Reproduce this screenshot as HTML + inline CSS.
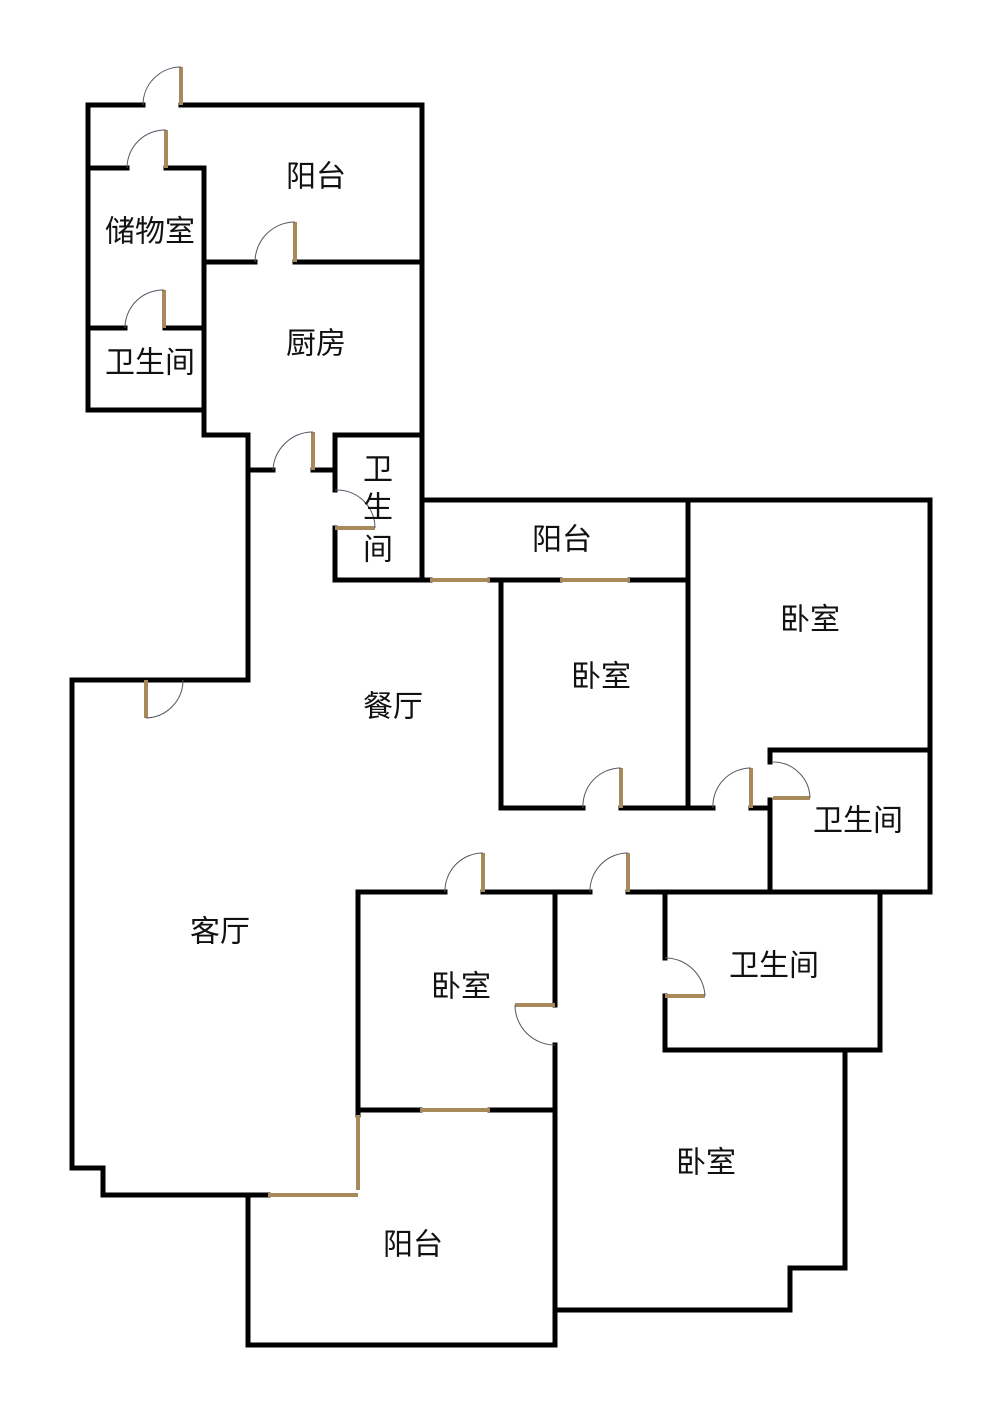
<!DOCTYPE html>
<html><head><meta charset="utf-8"><style>
html,body{margin:0;padding:0;background:#fff;}
svg{display:block}
text{font-family:"Liberation Sans","Noto Sans CJK SC",sans-serif;font-size:30px;fill:#111;text-anchor:middle;dominant-baseline:central}
</style></head><body>
<svg width="1000" height="1413" viewBox="0 0 1000 1413" xmlns="http://www.w3.org/2000/svg">
<g stroke="#000" stroke-width="5" fill="none" stroke-linecap="square">
<path d="M143 105 H88 V410 H204"/>
<path d="M181 105 H422 V580"/>
<path d="M88 168 H127"/><path d="M166 168 H204 V435 H248 V680 H72 V1168 H103 V1195 H268"/>
<path d="M204 262 H255"/><path d="M295 262 H422"/>
<path d="M88 328 H125"/><path d="M165 328 H204"/>
<path d="M248 470 H273"/><path d="M313 470 H335"/>
<path d="M335 490 V435 H422"/><path d="M335 528 V580 H422"/>
<path d="M422 500 H930 V892 H770 V800"/>
<path d="M422 580 H430"/><path d="M490 580 H560"/><path d="M630 580 H688"/>
<path d="M688 500 V808"/>
<path d="M501 580 V808 H583"/><path d="M621 808 H713"/><path d="M751 808 H770 V800"/>
<path d="M770 762 V750 H930"/>
<path d="M183 680 H248"/>
<path d="M358 892 H445"/><path d="M483 892 H590"/><path d="M628 892 H880 V1050 H665 V996"/>
<path d="M665 958 V892"/>
<path d="M845 1050 V1268 H790 V1310 H555 V1045"/>
<path d="M555 1005 V892"/>
<path d="M358 892 V1115"/><path d="M358 1110 H420"/><path d="M490 1110 H555"/>
<path d="M248 1195 V1345 H555 V1310"/>
</g>
<g stroke="#a88a5a" stroke-width="4" fill="none">
<path d="M181 67 V105"/><path d="M166 130 V168"/><path d="M295 222 V262"/><path d="M164 290 V328"/>
<path d="M313 432 V470"/><path d="M335 528 H375"/>
<path d="M430 580 H490"/><path d="M560 580 H630"/>
<path d="M621 768 V808"/><path d="M751 768 V808"/><path d="M773 798 H810"/>
<path d="M146 680 V718"/>
<path d="M483 853 V892"/><path d="M628 853 V892"/><path d="M665 996 H705"/>
<path d="M515 1005 H555"/>
<path d="M420 1110 H490"/><path d="M358 1115 V1190"/><path d="M268 1195 H358"/>
</g>
<g stroke="#556" stroke-width="1" fill="none">
<path d="M143 105 A38 38 0 0 1 181 67"/>
<path d="M127 168 A38 38 0 0 1 166 130"/>
<path d="M255 262 A40 40 0 0 1 295 222"/>
<path d="M125 328 A38 38 0 0 1 164 290"/>
<path d="M273 470 A40 40 0 0 1 313 432"/>
<path d="M335 490 A38 38 0 0 1 375 528"/>
<path d="M583 808 A38 38 0 0 1 621 768"/>
<path d="M713 808 A38 38 0 0 1 751 768"/>
<path d="M773 762 A37 37 0 0 1 810 798"/>
<path d="M146 718 A38 38 0 0 0 183 680"/>
<path d="M445 892 A38 38 0 0 1 483 853"/>
<path d="M590 892 A38 38 0 0 1 628 853"/>
<path d="M665 958 A40 40 0 0 1 705 996"/>
<path d="M515 1005 A40 40 0 0 0 555 1045"/>
</g>
<text x="316" y="177">阳台</text>
<text x="150" y="232">储物室</text>
<text x="150" y="363">卫生间</text>
<text x="316" y="344">厨房</text>
<text x="378" y="470">卫</text>
<text x="378" y="508">生</text>
<text x="378" y="550">间</text>
<text x="562" y="540">阳台</text>
<text x="810" y="620">卧室</text>
<text x="601" y="677">卧室</text>
<text x="393" y="707">餐厅</text>
<text x="858" y="821">卫生间</text>
<text x="220" y="932">客厅</text>
<text x="461" y="987">卧室</text>
<text x="774" y="966">卫生间</text>
<text x="706" y="1163">卧室</text>
<text x="413" y="1245">阳台</text>
</svg>
</body></html>
